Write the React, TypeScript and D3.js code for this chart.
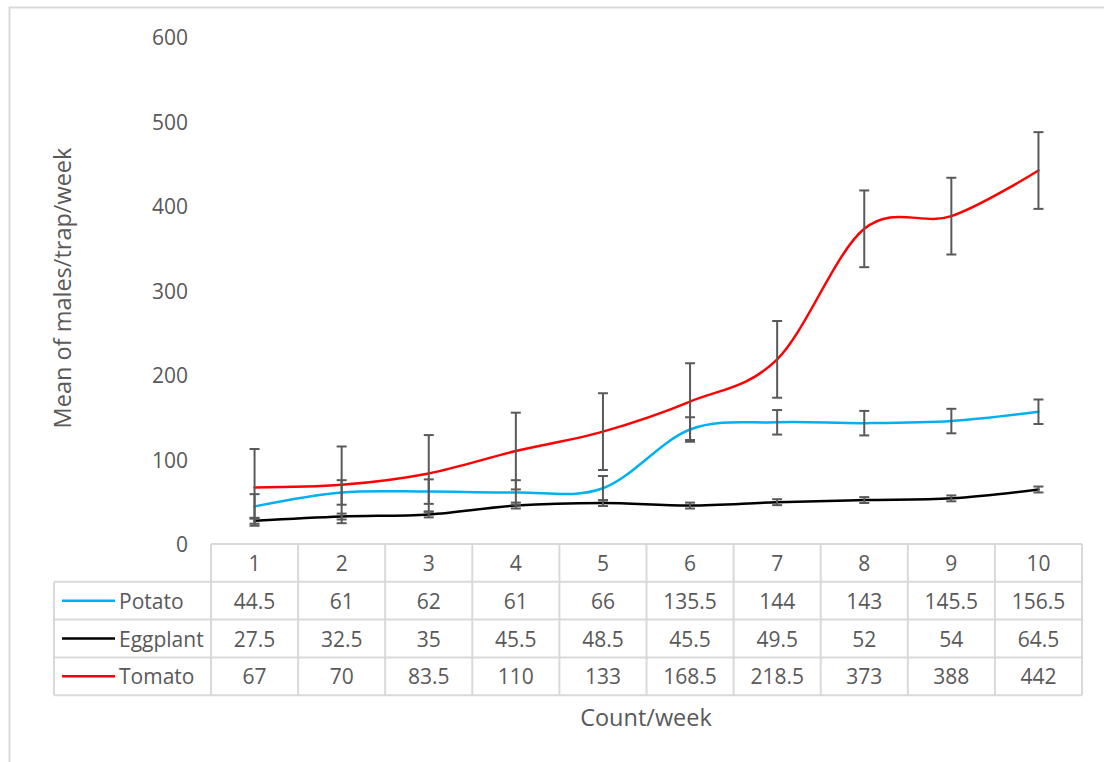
import React from "react";
import * as d3 from "d3";

const weeks = ["1", "2", "3", "4", "5", "6", "7", "8", "9", "10"];
const potato = [44.5, 61, 62, 61, 66, 135.5, 144, 143, 145.5, 156.5];
const eggplant = [27.5, 32.5, 35, 45.5, 48.5, 45.5, 49.5, 52, 54, 64.5];
const tomato = [67, 70, 83.5, 110, 133, 168.5, 218.5, 373, 388, 442];
const potatoErr = [14.5, 14.5, 14.5, 14.5, 14.5, 14.5, 14.5, 14.5, 14.5, 14.5];
const eggplantErr = [3.5, 3.5, 3.5, 3.5, 3.5, 3.5, 3.5, 3.5, 3.5, 3.5];
const tomatoErr = [45.4, 45.4, 45.4, 45.4, 45.4, 45.4, 45.4, 45.4, 45.4, 45.4];
const yTicks = [0, 100, 200, 300, 400, 500, 600];

const series = [
  { name: "Potato", values: potato, err: potatoErr, color: "#00B0F0" },
  { name: "Eggplant", values: eggplant, err: eggplantErr, color: "#000000" },
  { name: "Tomato", values: tomato, err: tomatoErr, color: "#FF0000" },
];

const W = 1104;
const H = 762;
const FONT = "'Open Sans', sans-serif";
const TXT = "#595959";
const GRID = "#D9D9D9";

export default function App() {
  const x = d3.scaleBand<string>().domain(weeks).range([211, 1082]).padding(0);
  const y = d3.scaleLinear().domain([0, 600]).range([544, 37]);
  const cx = (i: number) => (x(weeks[i]) as number) + x.bandwidth() / 2;
  const line = d3
    .line<number>()
    .x((_, i) => cx(i))
    .y((d) => y(d))
    .curve(d3.curveCardinal.tension(0));

  const rowTop = 544;
  const rowH = 37.8;
  const tableLeft = 54;
  const tableRight = 1082;
  const rows = [rowTop, rowTop + rowH, rowTop + 2 * rowH, rowTop + 3 * rowH, rowTop + 4 * rowH];

  return (
    <svg
      width={W}
      height={H}
      style={{ position: "absolute", left: 0, top: 0, background: "#fff" }}
      fontFamily={FONT}
    >
      <rect x={0} y={0} width={W} height={H} fill="#fff" />
      {/* chart frame */}
      <path d={`M9.5,${H} V7.5 H${W}`} fill="none" stroke={GRID} strokeWidth={2} />

      {/* y ticks */}
      {yTicks.map((t) => (
        <text key={t} x={188} y={y(t)} textAnchor="end" dominantBaseline="central" fontSize={21} fill={TXT}>
          {t}
        </text>
      ))}

      {/* y title */}
      <text
        transform={`translate(62,288) rotate(-90)`}
        textAnchor="middle"
        dominantBaseline="central"
        fontSize={23.5}
        fill={TXT}
      >
        Mean of males/trap/week
      </text>

      {/* table grid */}
      <g stroke={GRID} strokeWidth={2} fill="none">
        <line x1={211} x2={tableRight} y1={rows[0]} y2={rows[0]} />
        {rows.slice(1).map((r, i) => (
          <line key={i} x1={tableLeft} x2={tableRight} y1={r} y2={r} />
        ))}
        <line x1={tableLeft} x2={tableLeft} y1={rows[1]} y2={rows[4]} />
        {weeks.map((w) => (
          <line key={w} x1={x(w) as number} x2={x(w) as number} y1={rows[0]} y2={rows[4]} />
        ))}
        <line x1={tableRight} x2={tableRight} y1={rows[0]} y2={rows[4]} />
      </g>

      {/* header */}
      {weeks.map((w, i) => (
        <text key={w} x={cx(i)} y={rows[0] + rowH / 2} textAnchor="middle" dominantBaseline="central" fontSize={21} fill={TXT}>
          {w}
        </text>
      ))}

      {/* data rows */}
      {series.map((s, si) => {
        const yc = rows[si + 1] + rowH / 2;
        return (
          <g key={s.name}>
            <line x1={62} x2={115} y1={yc} y2={yc} stroke={s.color} strokeWidth={2.5} />
            <text x={119} y={yc} dominantBaseline="central" fontSize={21} fill={TXT}>
              {s.name}
            </text>
            {s.values.map((v, i) => (
              <text key={i} x={cx(i)} y={yc} textAnchor="middle" dominantBaseline="central" fontSize={21} fill={TXT}>
                {v}
              </text>
            ))}
          </g>
        );
      })}

      {/* lines */}
      {series.map((s) => (
        <path key={s.name} d={line(s.values) || ""} fill="none" stroke={s.color} strokeWidth={2.5} strokeLinecap="round" />
      ))}

      {/* error bars */}
      {series.map((s) => (
        <g key={s.name} stroke="#595959" strokeWidth={2}>
          {s.values.map((v, i) => {
            const px = cx(i);
            const t = y(v + s.err[i]);
            const b = y(v - s.err[i]);
            return (
              <g key={i}>
                <line x1={px} x2={px} y1={t} y2={b} />
                <line x1={px - 5} x2={px + 5} y1={t} y2={t} />
                <line x1={px - 5} x2={px + 5} y1={b} y2={b} />
              </g>
            );
          })}
        </g>
      ))}

      {/* x title */}
      <text x={646} y={717} textAnchor="middle" dominantBaseline="central" fontSize={23.5} fill={TXT}>
        Count/week
      </text>
    </svg>
  );
}
